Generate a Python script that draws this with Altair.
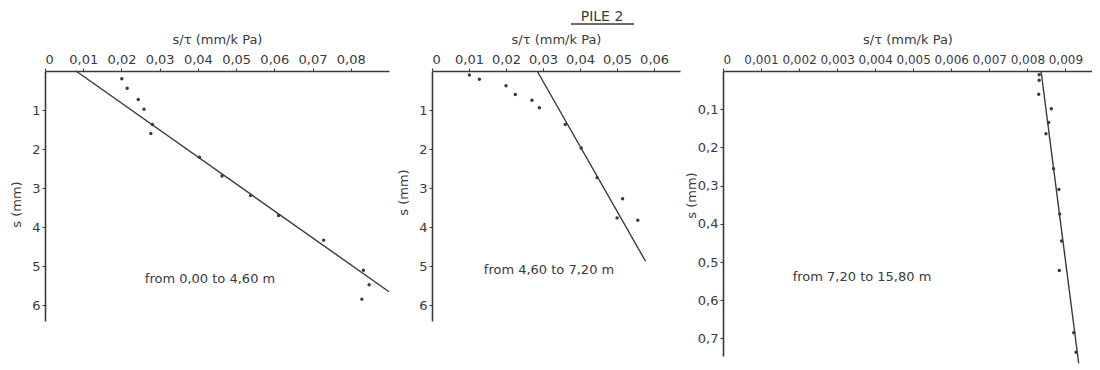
import altair as alt
import pandas as pd

# ---------------- data ----------------
# Panel 1: from 0,00 to 4,60 m
p1_ratio = [0.0201, 0.0215, 0.0244, 0.0259, 0.0281, 0.0277, 0.0404, 0.0463,
            0.0538, 0.0611, 0.0729, 0.0833, 0.0848, 0.0829]
p1_s = [0.20, 0.44, 0.73, 0.98, 1.37, 1.60, 2.21, 2.69, 3.19, 3.70, 4.33,
        5.10, 5.47, 5.84]
p1_fit_ratio = [0.0081, 0.0900]
p1_fit_s = [0.0, 5.65]

# Panel 2: from 4,60 to 7,20 m
p2_ratio = [0.0101, 0.0128, 0.0200, 0.0225, 0.0270, 0.0290, 0.0360, 0.0403,
            0.0446, 0.0515, 0.0500, 0.0556]
p2_s = [0.10, 0.21, 0.38, 0.60, 0.75, 0.94, 1.37, 1.97, 2.73, 3.27, 3.76, 3.82]
p2_fit_ratio = [0.0284, 0.0577]
p2_fit_s = [0.0, 4.87]

# Panel 3: from 7,20 to 15,80 m
p3_ratio = [0.00831, 0.00831, 0.00830, 0.00863, 0.00856, 0.00849, 0.00869,
            0.00883, 0.00885, 0.00890, 0.00884, 0.00922, 0.00928]
p3_s = [0.010, 0.024, 0.061, 0.099, 0.135, 0.164, 0.256, 0.310, 0.374,
        0.445, 0.522, 0.685, 0.736]
p3_fit_ratio = [0.00836, 0.00935]
p3_fit_s = [0.0, 0.765]

p1_xticks = [0.0, 0.01, 0.02, 0.03, 0.04, 0.05, 0.06, 0.07, 0.08]
p2_xticks = [0.0, 0.01, 0.02, 0.03, 0.04, 0.05, 0.06]
p3_xticks = [0.0, 0.001, 0.002, 0.003, 0.004, 0.005, 0.006, 0.007, 0.008, 0.009]
p12_yticks = [1, 2, 3, 4, 5, 6]
p3_yticks = [0.1, 0.2, 0.3, 0.4, 0.5, 0.6, 0.7]

notes = ["from 0,00 to 4,60 m", "from 4,60 to 7,20 m", "from 7,20 to 15,80 m"]
main_title = "PILE 2"
x_title = "s/τ (mm/k Pa)"
y_title = "s (mm)"

INK = "#3a3a3a"
FONT = "DejaVu Sans"


def panel(xs, ys, fx, fy, xdom, ydom, xticks, yticks, xdec, ydec, xlab_size,
          width, height, note, note_x, note_y, yt_x, yt_y):
    pts = pd.DataFrame({"r": xs, "s": ys})
    fit = pd.DataFrame({"r": fx, "s": fy})
    xexpr = ("datum.value == 0 ? '0' : replace(format(datum.value, '.%df'), '.', ',')"
             % xdec)
    yexpr = "replace(format(datum.value, '.%df'), '.', ',')" % ydec
    xenc = alt.X("r:Q",
                 scale=alt.Scale(domain=xdom, nice=False, zero=True),
                 axis=alt.Axis(orient="top", values=xticks, labelExpr=xexpr,
                               labelFontSize=xlab_size, labelOverlap=False,
                               title=x_title, titleY=-32,
                               titleBaseline="middle"))
    yenc = alt.Y("s:Q",
                 scale=alt.Scale(domain=ydom, nice=False, reverse=True),
                 axis=alt.Axis(orient="left", values=yticks, labelExpr=yexpr,
                               labelFontSize=13, labelOverlap=False,
                               title=y_title, titleX=yt_x, titleY=yt_y,
                               titleAngle=270, titleBaseline="middle"))
    points = alt.Chart(pts).mark_circle(size=12, color=INK, opacity=1).encode(
        x=xenc, y=yenc)
    line = alt.Chart(fit).mark_line(color=INK, strokeWidth=1.4).encode(
        x="r:Q", y="s:Q")
    txt = alt.Chart(pd.DataFrame({"note": [note]})).mark_text(
        font=FONT, fontSize=13, color=INK, align="center", baseline="middle"
    ).encode(x=alt.value(note_x), y=alt.value(note_y), text="note:N")
    return alt.layer(points, line, txt).properties(width=width, height=height)


c1 = panel(p1_ratio, p1_s, p1_fit_ratio, p1_fit_s, [0, 0.09], [0, 6.4],
           p1_xticks, p12_yticks, 2, 0, 13, 344, 250, notes[0], 165, 208, -29, 133)
c2 = panel(p2_ratio, p2_s, p2_fit_ratio, p2_fit_s, [0, 0.067], [0, 6.4],
           p2_xticks, p12_yticks, 2, 0, 13, 248, 250, notes[1], 117, 199, -29, 121)
c3 = panel(p3_ratio, p3_s, p3_fit_ratio, p3_fit_s, [0, 0.0097], [0, 0.746],
           p3_xticks, p3_yticks, 3, 1, 12, 369, 285, notes[2], 139, 206, -32, 124)

header_df = pd.DataFrame({"t": [main_title]})
head_text = alt.Chart(header_df).mark_text(
    font=FONT, fontSize=14, color=INK, align="center", baseline="alphabetic"
).encode(x=alt.value(557), y=alt.value(10), text="t:N")
head_rule = alt.Chart(header_df).mark_rule(color=INK, strokeWidth=1.5).encode(
    x=alt.value(526), x2=alt.value(589), y=alt.value(13))
header = alt.layer(head_text, head_rule).properties(width=1000, height=14)

chart = alt.vconcat(
    header,
    alt.hconcat(c1, c2, c3, spacing=5),
    spacing=8,
).properties(
    padding={"left": 2, "top": 2, "right": 0, "bottom": 0},
    background="white",
).configure_axis(
    grid=False,
    domainColor=INK, domainWidth=1.6,
    tickColor=INK, tickSize=3, tickWidth=1,
    labelFont=FONT, labelColor=INK, labelPadding=2,
    titleFont=FONT, titleFontSize=13, titleFontWeight="normal", titleColor=INK,
).configure_view(strokeWidth=0)

chart.save("out.html", embed_options={"renderer": "svg", "actions": False})
